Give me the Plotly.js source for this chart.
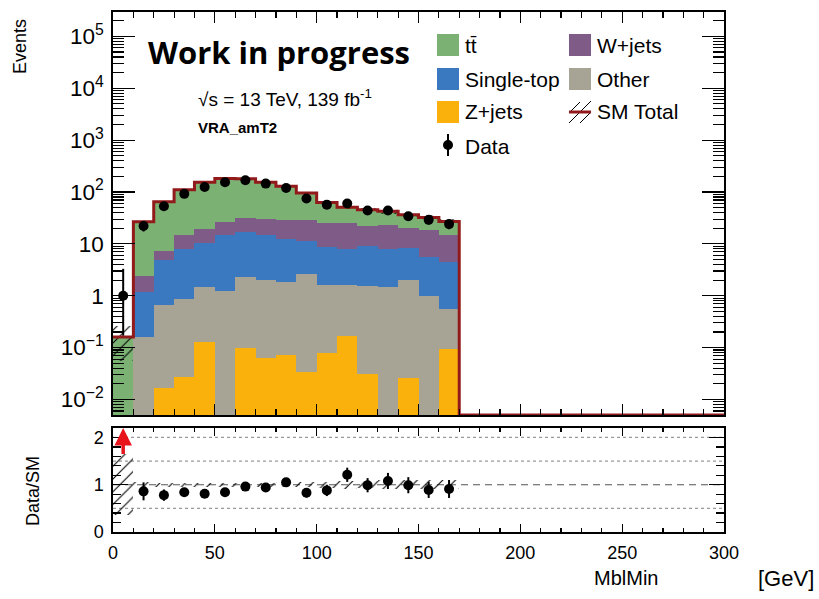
<!DOCTYPE html>
<html><head><meta charset="utf-8">
<script src="https://cdn.plot.ly/plotly-3.0.1.min.js"></script>
<style>html,body{margin:0;padding:0;background:#fff}#chart{width:819px;height:599px}</style>
</head><body><div id="chart"></div>
<script>
// ---------------- data ----------------
const binCenters = [5,15,25,35,45,55,65,75,85,95,105,115,125,135,145,155,165];
const binEdges = [0,10,20,30,40,50,60,70,80,90,100,110,120,130,140,150,160,170,180,190,200,210,220,230,240,250,260,270,280,290,300];
const ttbar     = [0.16, 24.3, 57.8, 96, 135, 154, 149, 124, 100, 66.5, 38.3, 25.7, 23.5, 19.3, 16.3, 13.6, 12.1];
const wjets     = [0, 1.25, 2.23, 7.0, 8.7, 12.3, 15.0, 16.0, 16.9, 17.8, 16.0, 16.9, 12.9, 14.9, 11.6, 13.0, 10.4];
const singleTop = [0, 1.03, 4.33, 7.0, 9.0, 13.4, 14.5, 12.5, 10.5, 8.8, 7.1, 6.3, 7.6, 6.6, 6.5, 4.7, 3.9];
const other     = [0, 0.161, 0.633, 0.848, 1.34, 1.25, 2.20, 1.95, 1.77, 2.56, 1.53, 1.44, 1.53, 1.47, 1.95, 0.97, 0.47];
const zjets     = [0, 0, 0.0168, 0.0267, 0.127, 0, 0.097, 0.064, 0.071, 0.0334, 0.0788, 0.168, 0.0305, 0, 0.0255, 0, 0.093];
const mcRelErr  = [0.65, 0.05, 0.04, 0.04, 0.04, 0.04, 0.04, 0.04, 0.05, 0.05, 0.06, 0.08, 0.07, 0.09, 0.09, 0.1, 0.1];
const dataCounts  = [1, 22, 53, 92, 125, 154, 168, 145, 119, 75, 57, 60, 44, 44, 34, 29, 24];
const dataErrUp   = [2.3, 5.7, 8.3, 10.6, 12.2, 13.4, 14.0, 13.1, 11.9, 9.7, 8.6, 8.8, 7.7, 7.7, 6.9, 6.4, 5.9];
const dataErrDown = [0.83, 4.7, 7.3, 9.6, 11.2, 12.4, 13.0, 12.0, 10.9, 8.7, 7.5, 7.7, 6.6, 6.6, 5.8, 5.4, 4.9];
const ratioCenters = [15,25,35,45,55,65,75,85,95,105,115,125,135,145,155,165];
const ratioVals = [0.86, 0.78, 0.84, 0.81, 0.84, 0.96, 0.94, 1.05, 0.83, 0.88, 1.21, 0.99, 1.08, 0.99, 0.89, 0.91];
const ratioErr  = [0.19, 0.12, 0.09, 0.08, 0.07, 0.07, 0.08, 0.09, 0.1, 0.12, 0.15, 0.15, 0.17, 0.17, 0.17, 0.19];
const xTickVals = [0,50,100,150,200,250,300];

// ---------------- derived ----------------
const mcTotal = binCenters.map((_, i) => ttbar[i] + wjets[i] + singleTop[i] + other[i] + zjets[i]);
const yRange = [-2.3, 5.47];
const floorVal = Math.pow(10, yRange[0]);
const stepY = binEdges.slice(0, -1).map((_, i) => (i < mcTotal.length && mcTotal[i] > 0) ? mcTotal[i] : floorVal);
stepY.push(stepY[stepY.length - 1]);

const C = {tt:'#7bb274', w:'#7f5c87', st:'#3a78bf', oth:'#a7a395', z:'#fbb10c', red:'#921a1a'};
const FONT = 'Liberation Sans, Arial, sans-serif';

function barTrace(name, vals, color) {
  return {type:'bar', name, x:binCenters, y:vals, width:10, xaxis:'x', yaxis:'y',
    marker:{color, line:{width:0}}, showlegend:false, hoverinfo:'skip'};
}
const hatch = {shape:'/', fgcolor:'#000', bgcolor:'rgba(0,0,0,0)', fillmode:'replace', size:9, solidity:0.12};

const traces = [
  barTrace('Z+jets', zjets, C.z),
  barTrace('Other', other, C.oth),
  barTrace('Single-top', singleTop, C.st),
  barTrace('W+jets', wjets, C.w),
  barTrace('tt̄', ttbar, C.tt),
  {type:'bar', name:'SM unc', x:binCenters, base:mcTotal.map((t,i)=>t*(1-mcRelErr[i])),
   y:mcTotal.map((t,i)=>2*t*mcRelErr[i]), width:10, xaxis:'x', yaxis:'y',
   marker:{color:'rgba(0,0,0,0)', line:{width:0}, pattern:hatch}, showlegend:false, hoverinfo:'skip'},
  {type:'scatter', mode:'lines', name:'SM Total', x:binEdges, y:stepY, line:{shape:'hv', color:C.red, width:3},
   xaxis:'x', yaxis:'y', showlegend:false, hoverinfo:'skip'},
  {type:'scatter', mode:'markers', name:'Data', x:binCenters, y:dataCounts, xaxis:'x', yaxis:'y',
   marker:{color:'#000', size:10},
   error_y:{type:'data', symmetric:false, array:dataErrUp, arrayminus:dataErrDown, color:'#000', thickness:2, width:0},
   showlegend:false},
  // ratio panel
  {type:'bar', name:'ratio unc', x:binCenters, base:mcRelErr.map(r=>1-r), y:mcRelErr.map(r=>2*r), width:10,
   xaxis:'x2', yaxis:'y2', marker:{color:'rgba(0,0,0,0)', line:{width:0}, pattern:hatch}, showlegend:false, hoverinfo:'skip'},
  {type:'scatter', mode:'markers', name:'Data/SM', x:ratioCenters, y:ratioVals, xaxis:'x2', yaxis:'y2',
   marker:{color:'#000', size:10},
   error_y:{type:'data', array:ratioErr, color:'#000', thickness:2, width:0}, showlegend:false}
];

// ---------------- layout helpers (pixel -> paper) ----------------
const L = 113, R = 724, T = 12, B = 532;
const px = v => (v - L) / (R - L);
const py = v => (B - v) / (B - T);

function rect(x0, y0, x1, y1, color) {
  return {type:'rect', xref:'paper', yref:'paper', x0:px(x0), x1:px(x1), y0:py(y1), y1:py(y0),
    fillcolor:color, line:{width:0}, layer:'above'};
}
function seg(x0, y0, x1, y1, color, w) {
  return {type:'line', xref:'paper', yref:'paper', x0:px(x0), y0:py(y0), x1:px(x1), y1:py(y1),
    line:{color, width:w}, layer:'above'};
}
function txt(text, x, y, size, opts) {
  return Object.assign({text, xref:'paper', yref:'paper', x:px(x), y:py(y), xanchor:'left', yanchor:'middle',
    showarrow:false, font:{family:FONT, size:size, color:'#000'}}, opts || {});
}

const shapes = [
  // ratio reference lines
  ...[0.5, 1.5, 2].map(v => ({type:'line', xref:'x2 domain', x0:0, x1:1, yref:'y2', y0:v, y1:v,
     line:{color:'#999', width:1.3, dash:'dot'}, layer:'below'})),
  {type:'line', xref:'x2 domain', x0:0, x1:1, yref:'y2', y0:1, y1:1, line:{color:'#555', width:1.2, dash:'7px,5px'}, layer:'below'},
  // legend swatches
  rect(437, 34, 459, 56, C.tt),
  rect(569, 34, 591, 56, C.w),
  rect(437, 68, 459, 90, C.st),
  rect(569, 68, 591, 90, C.oth),
  rect(437, 101, 459, 123, C.z),
  seg(569, 113, 580, 102, '#000', 1),
  seg(569, 123, 591, 101, '#000', 1),
  seg(580, 123, 591, 112, '#000', 1),
  seg(569, 112, 591, 112, C.red, 3),
  seg(448, 134, 448, 156, '#000', 2),
  {type:'circle', xref:'paper', yref:'paper', x0:px(443), x1:px(453), y0:py(150), y1:py(140),
   fillcolor:'#000', line:{width:0}, layer:'above'}
];

const annotations = [
  txt('Work in progress', 146, 52, 31, {font:{family:'Open Sans, sans-serif', size:31, color:'#000', weight:700}}),
  txt('√s = 13 TeV, 139 fb<sup>-1</sup>', 196, 98, 19),
  txt('<b>VRA_amT2</b>', 196, 127, 15),
  txt('tt̄', 463, 45, 21),
  txt('W+jets', 595, 45, 21),
  txt('Single-top', 463, 79, 21),
  txt('Other', 595, 79, 21),
  txt('Z+jets', 463, 112, 21),
  txt('SM Total', 595, 112, 21),
  txt('Data', 463, 146, 21),
  txt('Events', 20, 46, 18, {textangle:-90, xanchor:'center'}),
  txt('Data/SM', 33, 491, 18, {textangle:-90, xanchor:'center'}),
  txt('MblMin', 660, 578, 20, {xanchor:'right'}),
  txt('[GeV]', 816, 578, 22, {xanchor:'right'}),
  {xref:'x2', yref:'y2', x:binCenters[0], y:2.2, axref:'x2', ayref:'y2', ax:binCenters[0], ay:1.62,
   showarrow:true, arrowhead:2, arrowsize:1, arrowwidth:3.5, arrowcolor:'#e8141b', text:'', standoff:0}
];

const axCommon = {showline:true, linecolor:'#000', linewidth:1.6, mirror:'allticks', ticks:'inside',
  tickcolor:'#000', showgrid:false, zeroline:false, automargin:false,
  tickfont:{family:FONT, size:18, color:'#000'}};

const layout = {
  width:819, height:599, paper_bgcolor:'#fff', plot_bgcolor:'#fff',
  margin:{l:L, r:819-R, t:T, b:599-B, pad:0},
  barmode:'stack', bargap:0, showlegend:false,
  font:{family:FONT, size:16, color:'#000'},
  xaxis: Object.assign({}, axCommon, {anchor:'y', range:[0,300], tickvals:xTickVals, showticklabels:false,
    ticklen:11, tickwidth:1.2, minor:{ticks:'inside', dtick:10, ticklen:6, tickwidth:1.2, tickcolor:'#000'}}),
  yaxis: Object.assign({}, axCommon, {domain:[(B-415)/(B-T), 1], type:'log', range:yRange, dtick:1,
    exponentformat:'power', ticklen:22, tickwidth:1.2, ticklabelstandoff:4,
    minor:{ticks:'inside', dtick:'D1', ticklen:11, tickwidth:1.1, tickcolor:'#000'}}),
  xaxis2: Object.assign({}, axCommon, {anchor:'y2', matches:'x', range:[0,300], tickvals:xTickVals,
    ticklen:8, tickwidth:1.2, ticklabelstandoff:4,
    minor:{ticks:'inside', dtick:10, ticklen:4, tickwidth:1.2, tickcolor:'#000'}}),
  yaxis2: Object.assign({}, axCommon, {domain:[0, (B-428)/(B-T)], range:[0,2.2], tickvals:[0,1,2],
    ticklen:15, tickwidth:1.2, ticklabelstandoff:4,
    minor:{ticks:'inside', dtick:0.2, tick0:0, ticklen:8, tickwidth:1.2, tickcolor:'#000'}}),
  shapes, annotations
};

Plotly.newPlot('chart', traces, layout, {staticPlot:true, displayModeBar:false});
</script></body></html>
